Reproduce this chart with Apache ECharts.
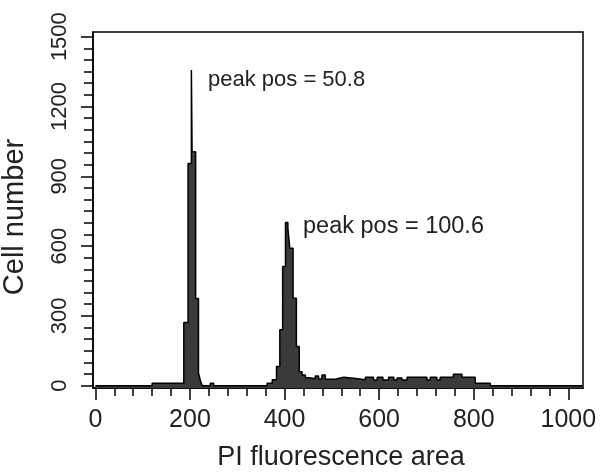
<!DOCTYPE html>
<html><head><meta charset="utf-8">
<script src="https://cdn.jsdelivr.net/npm/echarts@6/dist/echarts.min.js"></script>
<style>html,body{margin:0;padding:0;background:#fff}#c{width:602px;height:474px}</style>
</head><body><div id="c"></div>
<script>
// histogram bin start positions (PI fluorescence area) and cell counts per bin
const binStarts = [0,120,187,196,203,204.5,212,218,222,226,243,250,363,374,383,390,396,402,407,411,418,425,431,437,444,452,465,472,479,486,507,525,546,571,588,596,608,620,631,638,648,659,701,708,722,729,757,775,803,835,1030];
const counts    = [0,10,272,955,1357,1005,375,55,22,0,10,0,10,25,82,240,512,701,677,591,376,168,60,46,34,30,42,29,46,28,36,32,25,36,24,36,24,36,24,33,24,36,24,36,24,36,49,36,10,0,0];

const xTickLabels = [0,200,400,600,800,1000];
const xMinorTicks = [0,40,80,120,160,200,240,280,320,360,400,440,480,520,560,600,640,680,720,760,800,840,880,920,960,1000];
const yTickLabels = [0,300,600,900,1200,1500];
const yMinorTicks = [0,50,100,150,200,250,300,350,400,450,500,550,600,650,700,750,800,850,900,950,1000,1050,1100,1150,1200,1250,1300,1350,1400,1450,1500];

const peakLabels = ['peak pos = 50.8', 'peak pos = 100.6'];

// step outline built from the bins: each bin is flat from its start to the next bin's start
const stepPoints = [];
for (let i = 0; i < binStarts.length; i++) {
  const end = i + 1 < binStarts.length ? binStarts[i + 1] : binStarts[i];
  stepPoints.push([binStarts[i], counts[i]]);
  stepPoints.push([end, counts[i]]);
}

const FONT = '"Liberation Sans", Arial, Helvetica, sans-serif';
const chart = echarts.init(document.getElementById('c'), null, {renderer: 'canvas'});
const tickStyle = {color: '#000', width: 1.5};
const plain = v => String(v);

chart.setOption({
  animation: false,
  backgroundColor: '#fff',
  grid: {left: 93, right: 19, top: 32, bottom: 86, show: true, borderColor: '#000', borderWidth: 1.5, containLabel: false},
  xAxis: [{
    type: 'value', min: -5, max: 1031, position: 'bottom',
    axisLine: {show: true, onZero: false, lineStyle: {color: '#000', width: 1.5}},
    axisTick: {show: true, length: 12, lineStyle: tickStyle, customValues: xTickLabels},
    axisLabel: {show: true, customValues: xTickLabels, formatter: plain, margin: 20, color: '#222', fontSize: 25, fontFamily: FONT},
    splitLine: {show: false}
  }, {
    type: 'value', min: -5, max: 1031, position: 'bottom',
    axisLine: {show: false, onZero: false},
    axisTick: {show: true, length: 8, lineStyle: tickStyle, customValues: xMinorTicks},
    axisLabel: {show: false},
    splitLine: {show: false}
  }],
  yAxis: [{
    type: 'value', min: -10, max: 1520, position: 'left',
    axisLine: {show: true, onZero: false, lineStyle: {color: '#000', width: 1.5}},
    axisTick: {show: true, length: 12, lineStyle: tickStyle, customValues: yTickLabels},
    axisLabel: {show: true, customValues: yTickLabels, formatter: plain, rotate: 90, margin: 22, color: '#222', fontSize: 22, fontFamily: FONT},
    splitLine: {show: false}
  }, {
    type: 'value', min: -10, max: 1520, position: 'left',
    axisLine: {show: false, onZero: false},
    axisTick: {show: true, length: 9, lineStyle: tickStyle, customValues: yMinorTicks},
    axisLabel: {show: false},
    splitLine: {show: false}
  }],
  series: [{
    type: 'line',
    symbol: 'none',
    xAxisIndex: 0, yAxisIndex: 0,
    data: stepPoints,
    lineStyle: {color: '#000', width: 1.5},
    areaStyle: {color: '#3a3a3a', opacity: 1, origin: 'start'}
  }],
  graphic: [
    {type: 'text', left: 208, top: 69, style: {text: peakLabels[0], font: '22px ' + FONT, fill: '#222'}},
    {type: 'text', left: 303, top: 215, style: {text: peakLabels[1], font: '23.5px ' + FONT, fill: '#222'}},
    {type: 'text', x: 341, y: 458, style: {text: 'PI fluorescence area', font: '27px ' + FONT, fill: '#222', align: 'center', verticalAlign: 'middle'}},
    {type: 'text', x: 15, y: 217, rotation: Math.PI / 2, style: {text: 'Cell number', font: '29px ' + FONT, fill: '#222', align: 'center', verticalAlign: 'middle'}}
  ]
});
</script>
</body></html>
